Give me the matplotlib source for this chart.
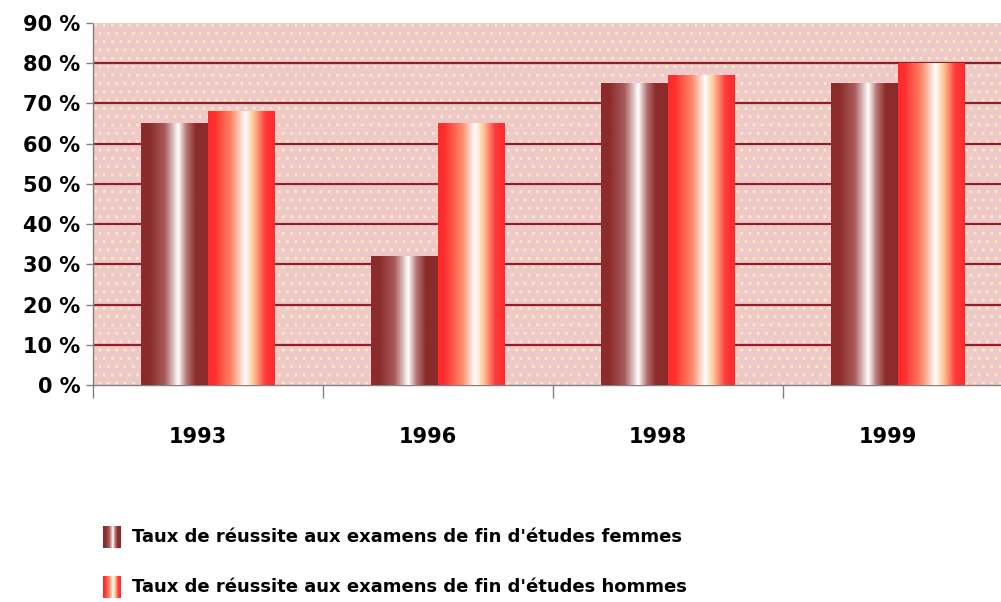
import numpy as np
import matplotlib.pyplot as plt
from matplotlib.colors import LinearSegmentedColormap
from matplotlib.patches import Rectangle
import matplotlib.transforms as mtransforms

# data
years = ['1993', '1996', '1998', '1999']
femmes = [65, 32, 75, 75]
hommes = [68, 65, 77, 80]
y_ticks = [0, 10, 20, 30, 40, 50, 60, 70, 80, 90]
y_labels = [f'{v} %' for v in y_ticks]
legend_labels = ["Taux de réussite aux examens de fin d'études femmes",
                 "Taux de réussite aux examens de fin d'études hommes"]

cmap_f = LinearSegmentedColormap.from_list('f', [
    (0.0, '#8C2B2B'), (0.12, '#8C2B2B'), (0.35, '#A85A5A'), (0.56, '#FFFFFF'),
    (0.68, '#B87878'), (0.82, '#8C2B2B'), (1.0, '#8C2B2B')])
cmap_h = LinearSegmentedColormap.from_list('h', [
    (0.0, '#FF2A2A'), (0.1, '#FF3030'), (0.35, '#FF8868'), (0.56, '#FFFFFF'),
    (0.68, '#FFC898'), (0.86, '#FF3A3A'), (1.0, '#FF2A2A')])
grad = np.linspace(0, 1, 128).reshape(1, -1)

W, H = 1001, 602
fig = plt.figure(figsize=(W / 100, H / 100), dpi=100)
ax = fig.add_axes([93 / W, (H - 385) / H, 920 / W, (385 - 23) / H])
ax.set_facecolor('#EFC9C9')
ax.add_patch(Rectangle((0, 0), 1, 1, transform=ax.transAxes, facecolor='none',
                       edgecolor='#F3EDB8', hatch='..', lw=0, zorder=0.5))

x = np.arange(len(years))
bw = 0.29
bars_f = ax.bar(x - bw / 2, femmes, bw, color='#8C2B2B', zorder=2)
bars_h = ax.bar(x + bw / 2, hommes, bw, color='#FF2A2A', zorder=2)
for bars, cm in ((bars_f, cmap_f), (bars_h, cmap_h)):
    for b in bars:
        x0, w, h = b.get_x(), b.get_width(), b.get_height()
        ax.imshow(grad, cmap=cm, aspect='auto', extent=[x0, x0 + w, 0, h],
                  zorder=3, interpolation='bilinear')

for v in y_ticks[1:-1]:
    ax.axhline(v, color='#8E1F2E', lw=1.6, zorder=1)

ax.set_xlim(-0.5, len(years) - 0.5)
ax.set_ylim(0, 90)
ax.set_yticks(y_ticks)
ax.set_yticklabels(y_labels, fontsize=15, fontweight='bold')
ax.tick_params(axis='y', length=5, width=1, color='#808080', pad=4)

ax.set_xticks(x)
ax.set_xticklabels(years, fontsize=15, fontweight='bold')
ax.set_xticks(np.arange(-0.5, len(years)), minor=True)
ax.tick_params(axis='x', which='major', length=0, pad=30)
ax.tick_params(axis='x', which='minor', length=9, width=1, color='#808080')
offset = mtransforms.ScaledTranslation(-10 / 100, 0, fig.dpi_scale_trans)
for lbl in ax.get_xticklabels():
    lbl.set_transform(lbl.get_transform() + offset)

for s in ('top', 'right'):
    ax.spines[s].set_visible(False)
for s in ('left', 'bottom'):
    ax.spines[s].set_color('#808080')
    ax.spines[s].set_linestyle((0, (2, 1)))
    ax.spines[s].set_linewidth(1)

# legend
for i, (lab, cm) in enumerate(zip(legend_labels, (cmap_f, cmap_h))):
    yc = 537 + 50 * i
    sw = fig.add_axes([103 / W, (H - yc - 11) / H, 18 / W, 22 / H])
    sw.imshow(grad, cmap=cm, aspect='auto', interpolation='bilinear')
    sw.axis('off')
    fig.text(132 / W, (H - yc) / H, lab, fontsize=13, fontweight='bold',
             va='center', ha='left')

fig.savefig('out.png', dpi=100)
